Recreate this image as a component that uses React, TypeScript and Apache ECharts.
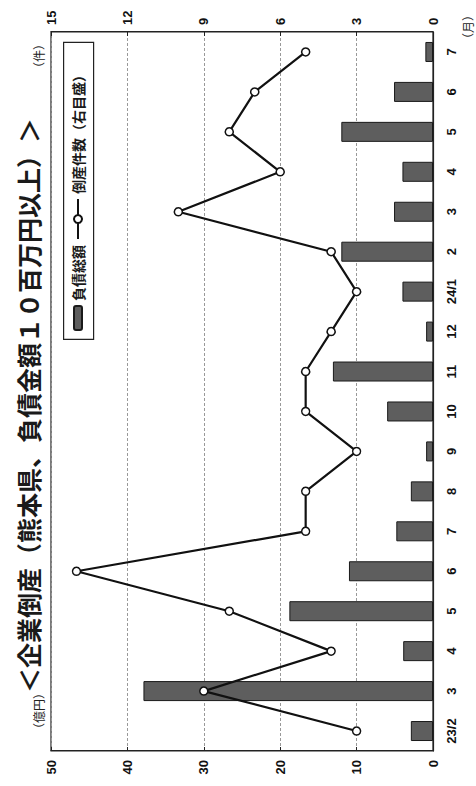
import React, { useEffect, useRef } from "react";
import * as echarts from "echarts";

const months = ["23/2", "3", "4", "5", "6", "7", "8", "9", "10", "11", "12", "24/1", "2", "3", "4", "5", "6", "7"];
// 負債総額（億円）
const debtTotal = [2.9, 37.9, 3.9, 18.8, 11.0, 4.8, 2.9, 0.9, 6.0, 13.1, 0.9, 4.0, 12.0, 5.1, 4.0, 12.0, 5.1, 1.0];
// 倒産件数（件）
const bankruptcies = [3, 9, 4, 8, 14, 5, 5, 3, 5, 5, 4, 3, 4, 10, 6, 8, 7, 5];

const titleText = "＜企業倒産（熊本県、負債金額１０百万円以上）＞";
const barName = "負債総額";
const lineName = "倒産件数（右目盛）";
const leftUnit = "（億円）";
const rightUnit = "（件）";
const catUnit = "（月）";

const NUM_FONT = "Arial, Liberation Sans, sans-serif";
const CJK_FONT = "Noto Sans CJK JP, sans-serif";

export default function App() {
  const ref = useRef<HTMLDivElement>(null);
  useEffect(() => {
    document.body.style.margin = "0";
    const chart = echarts.init(ref.current!, null, { renderer: "svg", width: 786, height: 476 });
    const numLabel = { fontSize: 13, fontWeight: "bold", color: "#111", fontFamily: NUM_FONT };
    chart.setOption({
      animation: false,
      backgroundColor: "#fff",
      title: {
        text: titleText,
        left: 93,
        top: 15,
        padding: 0,
        textStyle: { fontSize: 25, fontWeight: "bold", fontFamily: CJK_FONT, color: "#1a1a1a" },
      },
      legend: [
        {
          data: [barName],
          left: 455,
          top: 71,
          padding: 0,
          itemWidth: 24,
          itemHeight: 8,
          textStyle: { fontSize: 14, fontWeight: "bold", fontFamily: CJK_FONT, color: "#1a1a1a" },
        },
        {
          data: [lineName],
          left: 546,
          top: 71,
          padding: 0,
          itemWidth: 40,
          itemHeight: 10,
          textStyle: { fontSize: 14, fontWeight: "bold", fontFamily: CJK_FONT, color: "#1a1a1a" },
        },
      ],
      graphic: [
        {
          type: "rect",
          left: 446,
          top: 63,
          shape: { width: 297, height: 30 },
          style: { fill: "transparent", stroke: "#222", lineWidth: 1.2 },
        },
        { type: "text", left: 51, top: 32, style: { text: leftUnit, fontSize: 12, fontFamily: CJK_FONT, fill: "#222" } },
        { type: "text", left: 712, top: 32, style: { text: rightUnit, fontSize: 12, fontFamily: CJK_FONT, fill: "#222" } },
        { type: "text", left: 741, top: 461, style: { text: catUnit, fontSize: 12, fontFamily: CJK_FONT, fill: "#222" } },
      ],
      grid: {
        left: 35,
        right: 32,
        top: 51,
        bottom: 43,
        show: true,
        borderColor: "#222",
        borderWidth: 1.2,
        backgroundColor: "transparent",
      },
      xAxis: {
        type: "category",
        data: months,
        boundaryGap: true,
        axisLine: { lineStyle: { color: "#222", width: 1.2 } },
        axisTick: { inside: true, length: 4, lineStyle: { color: "#222" } },
        axisLabel: { ...numLabel, margin: 12, interval: 0 },
        splitLine: { show: false },
      },
      yAxis: [
        {
          type: "value",
          min: 0,
          max: 50,
          interval: 10,
          position: "left",
          axisLine: { show: true, lineStyle: { color: "#222", width: 1.2 } },
          axisTick: { show: true, inside: true, length: 4, lineStyle: { color: "#222" } },
          axisLabel: { ...numLabel, margin: 9 },
          splitLine: { show: true, lineStyle: { color: "#999", type: [3, 2], width: 1 } },
        },
        {
          type: "value",
          min: 0,
          max: 15,
          interval: 3,
          position: "right",
          axisLine: { show: true, lineStyle: { color: "#222", width: 1.2 } },
          axisTick: { show: true, inside: true, length: 4, lineStyle: { color: "#222" } },
          axisLabel: { ...numLabel, margin: 7 },
          splitLine: { show: false },
        },
      ],
      series: [
        {
          name: barName,
          type: "bar",
          yAxisIndex: 0,
          data: debtTotal,
          barWidth: 20,
          itemStyle: { color: "#5e5e5e", borderColor: "#1a1a1a", borderWidth: 1 },
        },
        {
          name: lineName,
          type: "line",
          yAxisIndex: 1,
          data: bankruptcies,
          symbol: "circle",
          symbolSize: 8,
          itemStyle: { color: "#fff", borderColor: "#111", borderWidth: 1.5 },
          lineStyle: { color: "#111", width: 2.2 },
          z: 5,
        },
      ],
    });
    return () => chart.dispose();
  }, []);
  return (
    <div style={{ position: "fixed", left: 0, top: 0, width: 476, height: 786, overflow: "hidden", background: "#fff" }}>
      <div
        ref={ref}
        style={{
          position: "absolute",
          left: 0,
          top: 0,
          width: 786,
          height: 476,
          transformOrigin: "0 0",
          transform: "translateY(786px) rotate(-90deg)",
        }}
      />
    </div>
  );
}
